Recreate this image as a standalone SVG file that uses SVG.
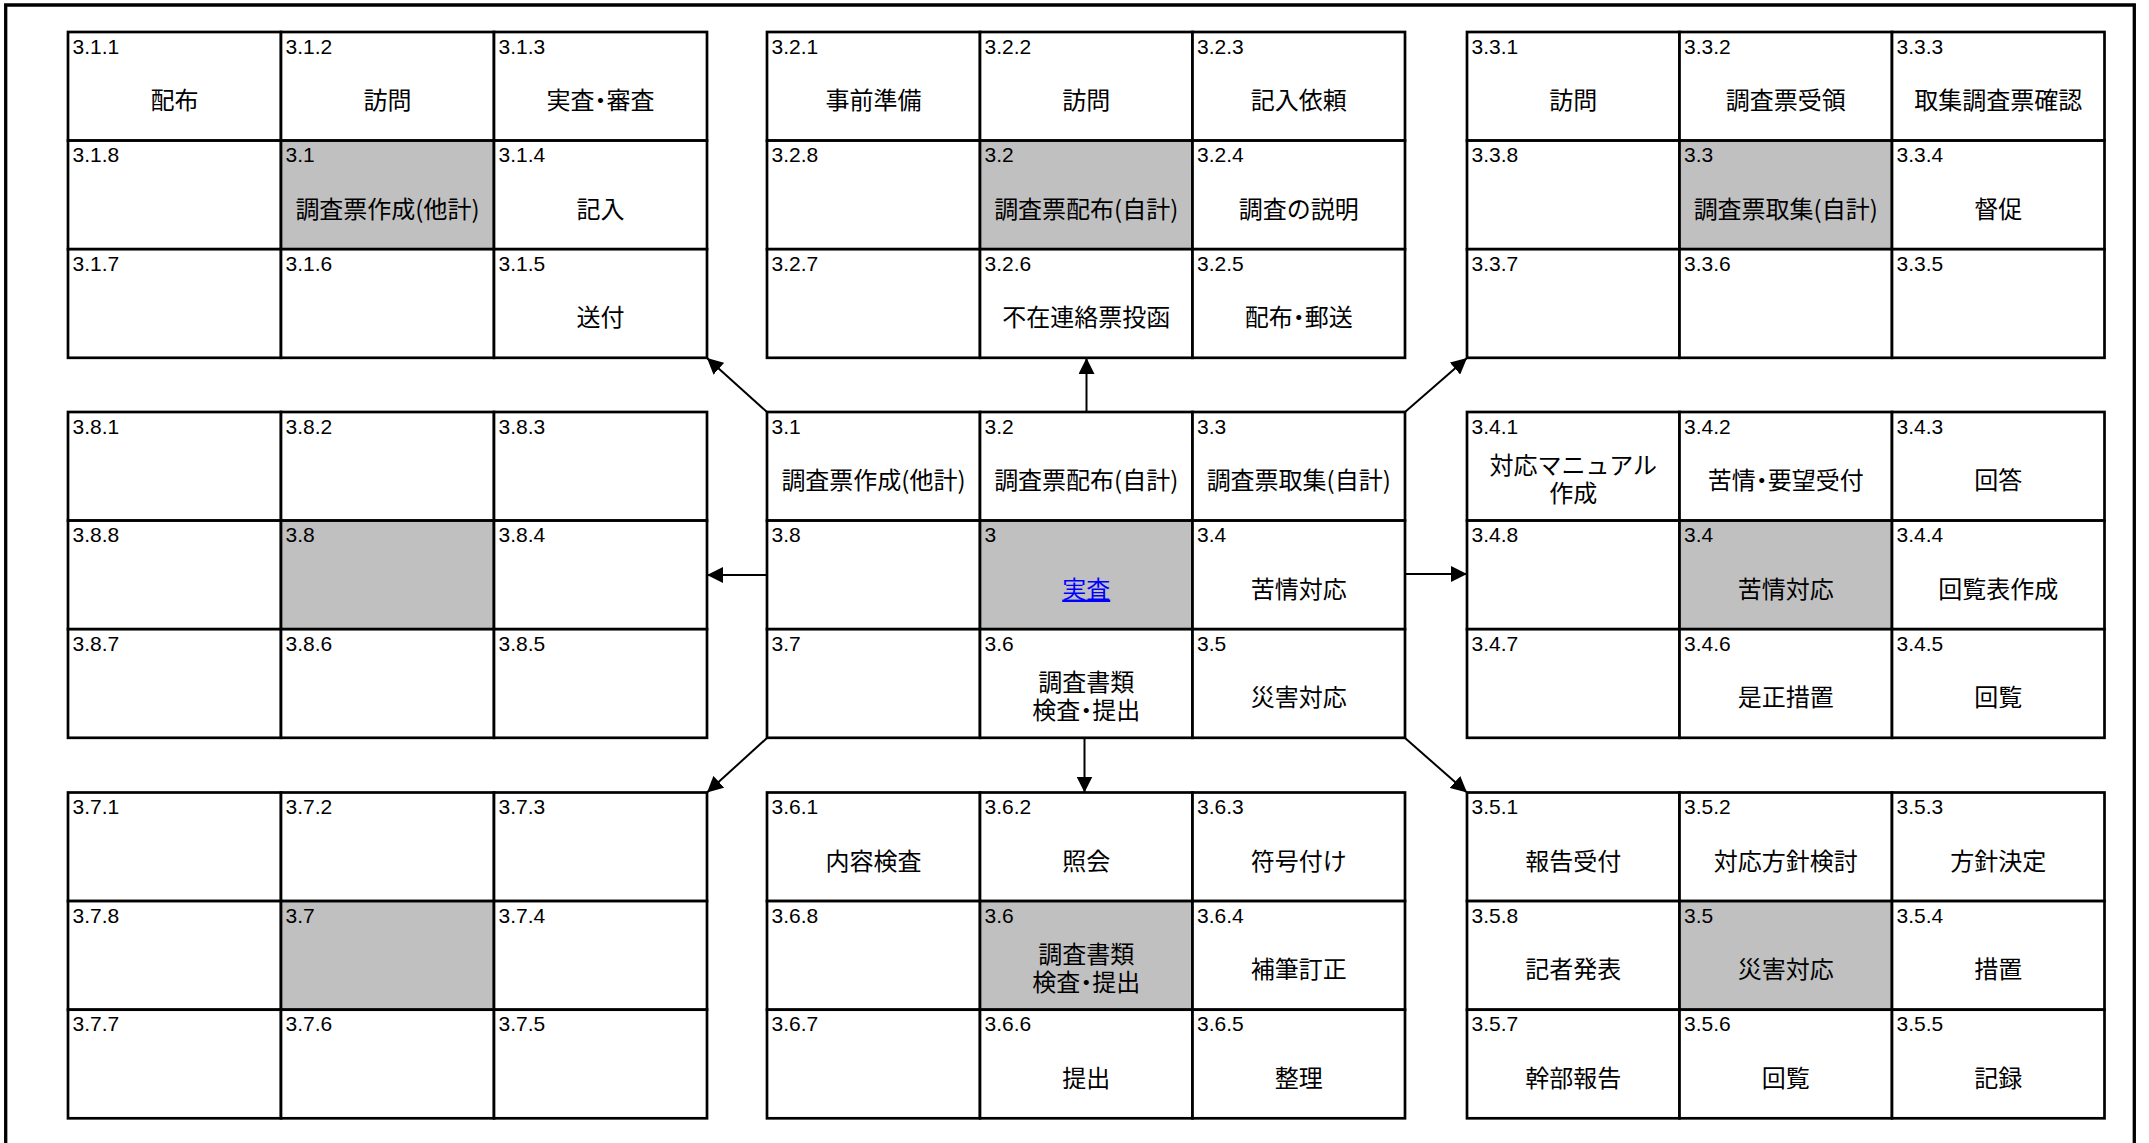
<svg xmlns="http://www.w3.org/2000/svg" width="2149" height="1143" viewBox="0 0 2149 1143">
<style>
rect{fill:#fff;stroke:#000;stroke-width:2.7}
rect.s{fill:#c0c0c0}
.n{font-family:"Liberation Sans",Arial,sans-serif;font-size:21px;fill:#000}
.t{font-family:"Noto Sans CJK JP","Noto Sans CJK SC",sans-serif;font-size:24px;text-anchor:middle;fill:#000;font-feature-settings:"halt"}
.lk{fill:#0000ff;text-decoration:underline}
.ar{stroke:#000;stroke-width:2;fill:none;marker-end:url(#ah)}
.frame{fill:none;stroke:#000;stroke-width:3.3}
</style>
<defs>
<marker id="ah" viewBox="0 0 16 16" refX="16" refY="8" markerWidth="16" markerHeight="16" markerUnits="userSpaceOnUse" orient="auto">
<path d="M0,0 L16,8 L0,16 z" fill="#000"/>
</marker>
</defs>
<rect x="0" y="0" width="2149" height="1143" style="stroke:none;fill:#fff"/>
<path class="frame" d="M5.7,1150 V5 H2134.3 V1150"/>

<g id="b3-1">
<g id="n3-1-1"><rect x="68" y="32" width="213" height="108.6"/><text class="n" x="72.5" y="53.5">3.1.1</text><text class="t" x="174.5" y="109">配布</text></g>
<g id="n3-1-2"><rect x="281" y="32" width="213" height="108.6"/><text class="n" x="285.5" y="53.5">3.1.2</text><text class="t" x="387.5" y="109">訪問</text></g>
<g id="n3-1-3"><rect x="494" y="32" width="213" height="108.6"/><text class="n" x="498.5" y="53.5">3.1.3</text><text class="t" x="600.5" y="109">実査・審査</text></g>
<g id="n3-1-8"><rect x="68" y="140.6" width="213" height="108.6"/><text class="n" x="72.5" y="162.1">3.1.8</text></g>
<g id="n3-1"><rect class="s" x="281" y="140.6" width="213" height="108.6"/><text class="n" x="285.5" y="162.1">3.1</text><text class="t" x="387.5" y="217.6">調査票作成(他計)</text></g>
<g id="n3-1-4"><rect x="494" y="140.6" width="213" height="108.6"/><text class="n" x="498.5" y="162.1">3.1.4</text><text class="t" x="600.5" y="217.6">記入</text></g>
<g id="n3-1-7"><rect x="68" y="249.2" width="213" height="108.6"/><text class="n" x="72.5" y="270.7">3.1.7</text></g>
<g id="n3-1-6"><rect x="281" y="249.2" width="213" height="108.6"/><text class="n" x="285.5" y="270.7">3.1.6</text></g>
<g id="n3-1-5"><rect x="494" y="249.2" width="213" height="108.6"/><text class="n" x="498.5" y="270.7">3.1.5</text><text class="t" x="600.5" y="326.2">送付</text></g>
</g>

<g id="b3-2">
<g id="n3-2-1"><rect x="767" y="32" width="213" height="108.6"/><text class="n" x="771.5" y="53.5">3.2.1</text><text class="t" x="873.5" y="109">事前準備</text></g>
<g id="n3-2-2"><rect x="980" y="32" width="212.5" height="108.6"/><text class="n" x="984.5" y="53.5">3.2.2</text><text class="t" x="1086.25" y="109">訪問</text></g>
<g id="n3-2-3"><rect x="1192.5" y="32" width="212.5" height="108.6"/><text class="n" x="1197" y="53.5">3.2.3</text><text class="t" x="1298.75" y="109">記入依頼</text></g>
<g id="n3-2-8"><rect x="767" y="140.6" width="213" height="108.6"/><text class="n" x="771.5" y="162.1">3.2.8</text></g>
<g id="n3-2"><rect class="s" x="980" y="140.6" width="212.5" height="108.6"/><text class="n" x="984.5" y="162.1">3.2</text><text class="t" x="1086.25" y="217.6">調査票配布(自計)</text></g>
<g id="n3-2-4"><rect x="1192.5" y="140.6" width="212.5" height="108.6"/><text class="n" x="1197" y="162.1">3.2.4</text><text class="t" x="1298.75" y="217.6">調査の説明</text></g>
<g id="n3-2-7"><rect x="767" y="249.2" width="213" height="108.6"/><text class="n" x="771.5" y="270.7">3.2.7</text></g>
<g id="n3-2-6"><rect x="980" y="249.2" width="212.5" height="108.6"/><text class="n" x="984.5" y="270.7">3.2.6</text><text class="t" x="1086.25" y="326.2">不在連絡票投函</text></g>
<g id="n3-2-5"><rect x="1192.5" y="249.2" width="212.5" height="108.6"/><text class="n" x="1197" y="270.7">3.2.5</text><text class="t" x="1298.75" y="326.2">配布・郵送</text></g>
</g>

<g id="b3-3">
<g id="n3-3-1"><rect x="1467" y="32" width="212.5" height="108.6"/><text class="n" x="1471.5" y="53.5">3.3.1</text><text class="t" x="1573.25" y="109">訪問</text></g>
<g id="n3-3-2"><rect x="1679.5" y="32" width="212.5" height="108.6"/><text class="n" x="1684" y="53.5">3.3.2</text><text class="t" x="1785.75" y="109">調査票受領</text></g>
<g id="n3-3-3"><rect x="1892" y="32" width="212.5" height="108.6"/><text class="n" x="1896.5" y="53.5">3.3.3</text><text class="t" x="1998.25" y="109">取集調査票確認</text></g>
<g id="n3-3-8"><rect x="1467" y="140.6" width="212.5" height="108.6"/><text class="n" x="1471.5" y="162.1">3.3.8</text></g>
<g id="n3-3"><rect class="s" x="1679.5" y="140.6" width="212.5" height="108.6"/><text class="n" x="1684" y="162.1">3.3</text><text class="t" x="1785.75" y="217.6">調査票取集(自計)</text></g>
<g id="n3-3-4"><rect x="1892" y="140.6" width="212.5" height="108.6"/><text class="n" x="1896.5" y="162.1">3.3.4</text><text class="t" x="1998.25" y="217.6">督促</text></g>
<g id="n3-3-7"><rect x="1467" y="249.2" width="212.5" height="108.6"/><text class="n" x="1471.5" y="270.7">3.3.7</text></g>
<g id="n3-3-6"><rect x="1679.5" y="249.2" width="212.5" height="108.6"/><text class="n" x="1684" y="270.7">3.3.6</text></g>
<g id="n3-3-5"><rect x="1892" y="249.2" width="212.5" height="108.6"/><text class="n" x="1896.5" y="270.7">3.3.5</text></g>
</g>

<g id="b3-8">
<g id="n3-8-1"><rect x="68" y="412" width="213" height="108.6"/><text class="n" x="72.5" y="433.5">3.8.1</text></g>
<g id="n3-8-2"><rect x="281" y="412" width="213" height="108.6"/><text class="n" x="285.5" y="433.5">3.8.2</text></g>
<g id="n3-8-3"><rect x="494" y="412" width="213" height="108.6"/><text class="n" x="498.5" y="433.5">3.8.3</text></g>
<g id="n3-8-8"><rect x="68" y="520.6" width="213" height="108.6"/><text class="n" x="72.5" y="542.1">3.8.8</text></g>
<g id="n3-8"><rect class="s" x="281" y="520.6" width="213" height="108.6"/><text class="n" x="285.5" y="542.1">3.8</text></g>
<g id="n3-8-4"><rect x="494" y="520.6" width="213" height="108.6"/><text class="n" x="498.5" y="542.1">3.8.4</text></g>
<g id="n3-8-7"><rect x="68" y="629.2" width="213" height="108.6"/><text class="n" x="72.5" y="650.7">3.8.7</text></g>
<g id="n3-8-6"><rect x="281" y="629.2" width="213" height="108.6"/><text class="n" x="285.5" y="650.7">3.8.6</text></g>
<g id="n3-8-5"><rect x="494" y="629.2" width="213" height="108.6"/><text class="n" x="498.5" y="650.7">3.8.5</text></g>
</g>

<g id="b3">
<g id="c3-1"><rect x="767" y="412" width="213" height="108.6"/><text class="n" x="771.5" y="433.5">3.1</text><text class="t" x="873.5" y="489">調査票作成(他計)</text></g>
<g id="c3-2"><rect x="980" y="412" width="212.5" height="108.6"/><text class="n" x="984.5" y="433.5">3.2</text><text class="t" x="1086.25" y="489">調査票配布(自計)</text></g>
<g id="c3-3"><rect x="1192.5" y="412" width="212.5" height="108.6"/><text class="n" x="1197" y="433.5">3.3</text><text class="t" x="1298.75" y="489">調査票取集(自計)</text></g>
<g id="c3-8"><rect x="767" y="520.6" width="213" height="108.6"/><text class="n" x="771.5" y="542.1">3.8</text></g>
<g id="c3"><rect class="s" x="980" y="520.6" width="212.5" height="108.6"/><text class="n" x="984.5" y="542.1">3</text><text class="t lk" x="1086.25" y="597.6">実査</text></g>
<g id="c3-4"><rect x="1192.5" y="520.6" width="212.5" height="108.6"/><text class="n" x="1197" y="542.1">3.4</text><text class="t" x="1298.75" y="597.6">苦情対応</text></g>
<g id="c3-7"><rect x="767" y="629.2" width="213" height="108.6"/><text class="n" x="771.5" y="650.7">3.7</text></g>
<g id="c3-6"><rect x="980" y="629.2" width="212.5" height="108.6"/><text class="n" x="984.5" y="650.7">3.6</text><text class="t"><tspan x="1086.25" y="690.7">調査書類</tspan><tspan x="1086.25" y="719.2">検査・提出</tspan></text></g>
<g id="c3-5"><rect x="1192.5" y="629.2" width="212.5" height="108.6"/><text class="n" x="1197" y="650.7">3.5</text><text class="t" x="1298.75" y="706.2">災害対応</text></g>
</g>

<g id="b3-4">
<g id="n3-4-1"><rect x="1467" y="412" width="212.5" height="108.6"/><text class="n" x="1471.5" y="433.5">3.4.1</text><text class="t"><tspan x="1573.25" y="473.5">対応マニュアル</tspan><tspan x="1573.25" y="502">作成</tspan></text></g>
<g id="n3-4-2"><rect x="1679.5" y="412" width="212.5" height="108.6"/><text class="n" x="1684" y="433.5">3.4.2</text><text class="t" x="1785.75" y="489">苦情・要望受付</text></g>
<g id="n3-4-3"><rect x="1892" y="412" width="212.5" height="108.6"/><text class="n" x="1896.5" y="433.5">3.4.3</text><text class="t" x="1998.25" y="489">回答</text></g>
<g id="n3-4-8"><rect x="1467" y="520.6" width="212.5" height="108.6"/><text class="n" x="1471.5" y="542.1">3.4.8</text></g>
<g id="n3-4"><rect class="s" x="1679.5" y="520.6" width="212.5" height="108.6"/><text class="n" x="1684" y="542.1">3.4</text><text class="t" x="1785.75" y="597.6">苦情対応</text></g>
<g id="n3-4-4"><rect x="1892" y="520.6" width="212.5" height="108.6"/><text class="n" x="1896.5" y="542.1">3.4.4</text><text class="t" x="1998.25" y="597.6">回覧表作成</text></g>
<g id="n3-4-7"><rect x="1467" y="629.2" width="212.5" height="108.6"/><text class="n" x="1471.5" y="650.7">3.4.7</text></g>
<g id="n3-4-6"><rect x="1679.5" y="629.2" width="212.5" height="108.6"/><text class="n" x="1684" y="650.7">3.4.6</text><text class="t" x="1785.75" y="706.2">是正措置</text></g>
<g id="n3-4-5"><rect x="1892" y="629.2" width="212.5" height="108.6"/><text class="n" x="1896.5" y="650.7">3.4.5</text><text class="t" x="1998.25" y="706.2">回覧</text></g>
</g>

<g id="b3-7">
<g id="n3-7-1"><rect x="68" y="792.5" width="213" height="108.6"/><text class="n" x="72.5" y="814">3.7.1</text></g>
<g id="n3-7-2"><rect x="281" y="792.5" width="213" height="108.6"/><text class="n" x="285.5" y="814">3.7.2</text></g>
<g id="n3-7-3"><rect x="494" y="792.5" width="213" height="108.6"/><text class="n" x="498.5" y="814">3.7.3</text></g>
<g id="n3-7-8"><rect x="68" y="901.1" width="213" height="108.6"/><text class="n" x="72.5" y="922.6">3.7.8</text></g>
<g id="n3-7"><rect class="s" x="281" y="901.1" width="213" height="108.6"/><text class="n" x="285.5" y="922.6">3.7</text></g>
<g id="n3-7-4"><rect x="494" y="901.1" width="213" height="108.6"/><text class="n" x="498.5" y="922.6">3.7.4</text></g>
<g id="n3-7-7"><rect x="68" y="1009.7" width="213" height="108.6"/><text class="n" x="72.5" y="1031.2">3.7.7</text></g>
<g id="n3-7-6"><rect x="281" y="1009.7" width="213" height="108.6"/><text class="n" x="285.5" y="1031.2">3.7.6</text></g>
<g id="n3-7-5"><rect x="494" y="1009.7" width="213" height="108.6"/><text class="n" x="498.5" y="1031.2">3.7.5</text></g>
</g>

<g id="b3-6">
<g id="n3-6-1"><rect x="767" y="792.5" width="213" height="108.6"/><text class="n" x="771.5" y="814">3.6.1</text><text class="t" x="873.5" y="869.5">内容検査</text></g>
<g id="n3-6-2"><rect x="980" y="792.5" width="212.5" height="108.6"/><text class="n" x="984.5" y="814">3.6.2</text><text class="t" x="1086.25" y="869.5">照会</text></g>
<g id="n3-6-3"><rect x="1192.5" y="792.5" width="212.5" height="108.6"/><text class="n" x="1197" y="814">3.6.3</text><text class="t" x="1298.75" y="869.5">符号付け</text></g>
<g id="n3-6-8"><rect x="767" y="901.1" width="213" height="108.6"/><text class="n" x="771.5" y="922.6">3.6.8</text></g>
<g id="n3-6"><rect class="s" x="980" y="901.1" width="212.5" height="108.6"/><text class="n" x="984.5" y="922.6">3.6</text><text class="t"><tspan x="1086.25" y="962.6">調査書類</tspan><tspan x="1086.25" y="991.1">検査・提出</tspan></text></g>
<g id="n3-6-4"><rect x="1192.5" y="901.1" width="212.5" height="108.6"/><text class="n" x="1197" y="922.6">3.6.4</text><text class="t" x="1298.75" y="978.1">補筆訂正</text></g>
<g id="n3-6-7"><rect x="767" y="1009.7" width="213" height="108.6"/><text class="n" x="771.5" y="1031.2">3.6.7</text></g>
<g id="n3-6-6"><rect x="980" y="1009.7" width="212.5" height="108.6"/><text class="n" x="984.5" y="1031.2">3.6.6</text><text class="t" x="1086.25" y="1086.7">提出</text></g>
<g id="n3-6-5"><rect x="1192.5" y="1009.7" width="212.5" height="108.6"/><text class="n" x="1197" y="1031.2">3.6.5</text><text class="t" x="1298.75" y="1086.7">整理</text></g>
</g>

<g id="b3-5">
<g id="n3-5-1"><rect x="1467" y="792.5" width="212.5" height="108.6"/><text class="n" x="1471.5" y="814">3.5.1</text><text class="t" x="1573.25" y="869.5">報告受付</text></g>
<g id="n3-5-2"><rect x="1679.5" y="792.5" width="212.5" height="108.6"/><text class="n" x="1684" y="814">3.5.2</text><text class="t" x="1785.75" y="869.5">対応方針検討</text></g>
<g id="n3-5-3"><rect x="1892" y="792.5" width="212.5" height="108.6"/><text class="n" x="1896.5" y="814">3.5.3</text><text class="t" x="1998.25" y="869.5">方針決定</text></g>
<g id="n3-5-8"><rect x="1467" y="901.1" width="212.5" height="108.6"/><text class="n" x="1471.5" y="922.6">3.5.8</text><text class="t" x="1573.25" y="978.1">記者発表</text></g>
<g id="n3-5"><rect class="s" x="1679.5" y="901.1" width="212.5" height="108.6"/><text class="n" x="1684" y="922.6">3.5</text><text class="t" x="1785.75" y="978.1">災害対応</text></g>
<g id="n3-5-4"><rect x="1892" y="901.1" width="212.5" height="108.6"/><text class="n" x="1896.5" y="922.6">3.5.4</text><text class="t" x="1998.25" y="978.1">措置</text></g>
<g id="n3-5-7"><rect x="1467" y="1009.7" width="212.5" height="108.6"/><text class="n" x="1471.5" y="1031.2">3.5.7</text><text class="t" x="1573.25" y="1086.7">幹部報告</text></g>
<g id="n3-5-6"><rect x="1679.5" y="1009.7" width="212.5" height="108.6"/><text class="n" x="1684" y="1031.2">3.5.6</text><text class="t" x="1785.75" y="1086.7">回覧</text></g>
<g id="n3-5-5"><rect x="1892" y="1009.7" width="212.5" height="108.6"/><text class="n" x="1896.5" y="1031.2">3.5.5</text><text class="t" x="1998.25" y="1086.7">記録</text></g>
</g>

<g id="connectors">
<line class="ar" x1="767" y1="412" x2="707" y2="358"/>
<line class="ar" x1="1086.5" y1="412" x2="1086.5" y2="358"/>
<line class="ar" x1="1405" y1="412" x2="1467" y2="358"/>
<line class="ar" x1="767" y1="575" x2="707" y2="575"/>
<line class="ar" x1="1405" y1="574" x2="1467" y2="574"/>
<line class="ar" x1="767" y1="738" x2="707" y2="792.5"/>
<line class="ar" x1="1084.5" y1="738" x2="1084.5" y2="792.5"/>
<line class="ar" x1="1405" y1="738" x2="1467" y2="792.5"/>
</g>
</svg>
